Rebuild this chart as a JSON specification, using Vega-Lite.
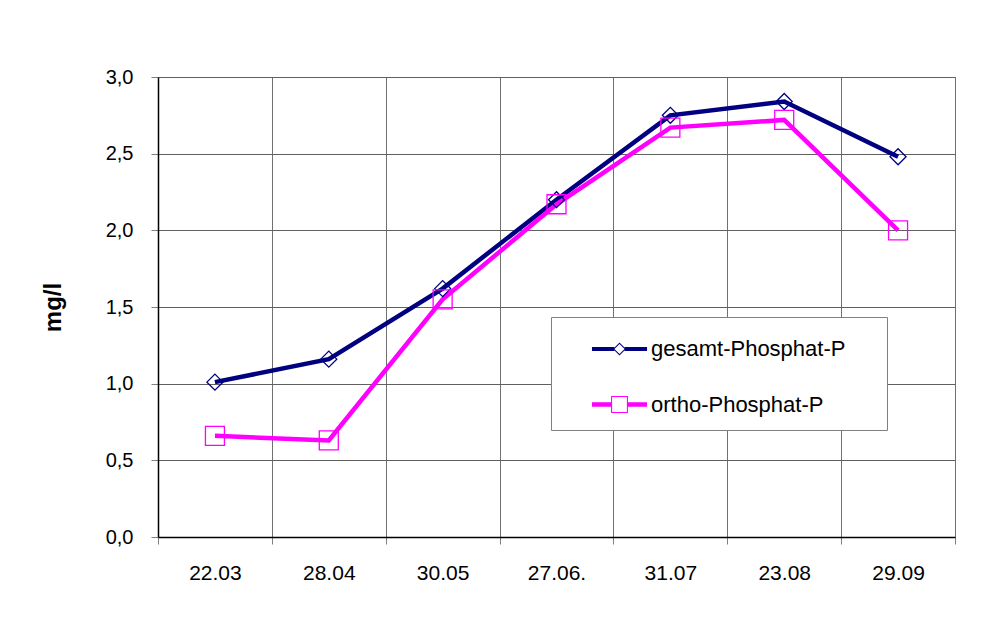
{
  "$schema": "https://vega.github.io/schema/vega-lite/v6.json",
  "autosize": "none",
  "width": 797,
  "height": 460,
  "padding": {"left": 158, "top": 77, "right": 52, "bottom": 107},
  "background": "white",
  "config": {
    "font": "Liberation Sans",
    "view": {"stroke": "#808080", "strokeWidth": 1}
  },
  "data": {
    "values": [
      {"datum": "22.03", "serie": "gesamt-Phosphat-P", "wert": 1.01},
      {"datum": "28.04", "serie": "gesamt-Phosphat-P", "wert": 1.16},
      {"datum": "30.05", "serie": "gesamt-Phosphat-P", "wert": 1.62},
      {"datum": "27.06.", "serie": "gesamt-Phosphat-P", "wert": 2.2},
      {"datum": "31.07", "serie": "gesamt-Phosphat-P", "wert": 2.75},
      {"datum": "23.08", "serie": "gesamt-Phosphat-P", "wert": 2.84},
      {"datum": "29.09", "serie": "gesamt-Phosphat-P", "wert": 2.48},
      {"datum": "22.03", "serie": "ortho-Phosphat-P", "wert": 0.66},
      {"datum": "28.04", "serie": "ortho-Phosphat-P", "wert": 0.63},
      {"datum": "30.05", "serie": "ortho-Phosphat-P", "wert": 1.55},
      {"datum": "27.06.", "serie": "ortho-Phosphat-P", "wert": 2.17},
      {"datum": "31.07", "serie": "ortho-Phosphat-P", "wert": 2.67},
      {"datum": "23.08", "serie": "ortho-Phosphat-P", "wert": 2.72},
      {"datum": "29.09", "serie": "ortho-Phosphat-P", "wert": 2.0}
    ]
  },
  "encoding": {
    "x": {
      "field": "datum",
      "type": "nominal",
      "sort": null,
      "scale": {"paddingInner": 0, "paddingOuter": 0},
      "axis": {
        "title": null,
        "tickBand": "extent",
        "labelAngle": 0,
        "labelFontSize": 21,
        "labelColor": "black",
        "labelPadding": 18,
        "tickSize": 7,
        "tickColor": "#808080",
        "domainColor": "black",
        "domainWidth": 1.5,
        "grid": true,
        "gridColor": "#707070",
        "gridWidth": 1
      }
    },
    "y": {
      "field": "wert",
      "type": "quantitative",
      "scale": {"domain": [0, 3], "nice": false},
      "axis": {
        "title": "mg/l",
        "titleFontSize": 24,
        "titleFontWeight": "bold",
        "titleColor": "black",
        "titlePadding": 40,
        "values": [0, 0.5, 1, 1.5, 2, 2.5, 3],
        "labelExpr": "replace(format(datum.value, '.1f'), '.', ',')",
        "labelFontSize": 20,
        "labelColor": "black",
        "labelPadding": 18,
        "tickSize": 7,
        "tickColor": "#808080",
        "domainColor": "black",
        "domainWidth": 1.5,
        "grid": true,
        "gridColor": "#606060",
        "gridWidth": 1
      }
    }
  },
  "layer": [
    {
      "mark": {"type": "line", "strokeWidth": 4.5},
      "encoding": {
        "color": {
          "field": "serie",
          "type": "nominal",
          "scale": {"domain": ["gesamt-Phosphat-P", "ortho-Phosphat-P"], "range": ["#000080", "#FF00FF"]},
          "legend": {
            "orient": "none",
            "legendX": 393,
            "legendY": 240,
            "title": ".",
            "titleOrient": "right",
            "titleOpacity": 0,
            "titleFontSize": 10,
            "titlePadding": 25,
            "padding": 14,
            "strokeColor": "#808080",
            "fillColor": "white",
            "symbolSize": 1296,
            "symbolStrokeWidth": 0,
            "symbolOffset": 36.5,
            "labelOffset": 13.5,
            "rowPadding": 26.5,
            "labelFontSize": 22,
            "labelLimit": 500,
            "labelColor": "black",
            "encode": {
              "symbols": {
                "update": {
                  "shape": {"signal": "datum.value === 'gesamt-Phosphat-P' ? 'M-1.53,-0.11H-0.29V0.11H-1.53Z M0.29,-0.11H1.53V0.11H0.29Z M0,-0.36L0.36,0L0,0.36L-0.36,0Z M0,-0.28L-0.28,0L0,0.28L0.28,0Z' : 'M-1.53,-0.13H-0.47V0.13H-1.53Z M0.47,-0.13H1.53V0.13H0.47Z M-0.47,-0.47H0.47V0.47H-0.47Z M-0.41,-0.41V0.41H0.41V-0.41Z'"},
                  "fill": {"signal": "datum.value === 'gesamt-Phosphat-P' ? '#000080' : '#FF00FF'"},
                  "fillOpacity": {"value": 1},
                  "strokeWidth": {"value": 0},
                  "opacity": {"value": 1}
                }
              }
            }
          }
        }
      }
    },
    {
      "transform": [{"filter": "datum.serie === 'gesamt-Phosphat-P'"}],
      "mark": {"type": "point", "shape": "diamond", "size": 256, "filled": false, "strokeWidth": 1.3, "opacity": 1, "color": "#000080"}
    },
    {
      "transform": [{"filter": "datum.serie === 'ortho-Phosphat-P'"}],
      "mark": {"type": "point", "shape": "square", "size": 361, "filled": false, "strokeWidth": 1.3, "opacity": 1, "color": "#FF00FF"}
    }
  ]
}
